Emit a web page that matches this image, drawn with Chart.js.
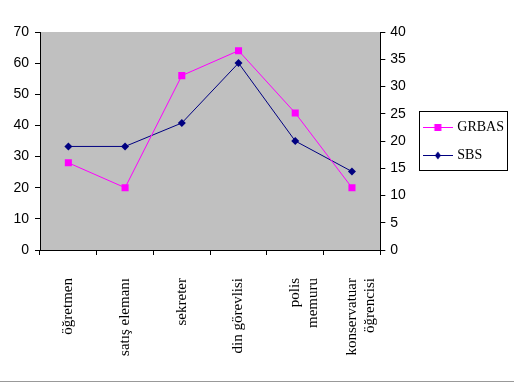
<!DOCTYPE html>
<html>
<head>
<meta charset="utf-8">
<script src="https://cdn.jsdelivr.net/npm/chart.js@4/dist/chart.umd.min.js"></script>
<style>
  body { margin: 0; background: #fff; }
  #wrap { width: 514px; height: 381px; border-bottom: 1px solid #999; }
</style>
</head>
<body>
<div id="wrap"><canvas id="chart" width="514" height="380"></canvas></div>
<script>
const categories = ['öğretmen', 'satış elemanı', 'sekreter', 'din görevlisi', ['polis', 'memuru'], ['konservatuar', 'öğrencisi']];
const grbasValues = [28, 20, 56, 64, 44, 20];   // left axis
const sbsValues = [19, 19, 23.3, 34.3, 20, 14.4]; // right axis
const leftTicks = [0, 10, 20, 30, 40, 50, 60, 70];
const rightTicks = [0, 5, 10, 15, 20, 25, 30, 35, 40];

const sansNarrow = '"Liberation Sans Narrow", "Liberation Sans", Arial, sans-serif';
const serif = '"Liberation Serif", "Times New Roman", serif';

// legend symbol: short line with the marker in the middle
function legendIcon(color, shape) {
  const c = document.createElement('canvas');
  c.width = 30; c.height = 10;
  const g = c.getContext('2d');
  g.strokeStyle = color; g.fillStyle = color; g.lineWidth = 1;
  g.beginPath(); g.moveTo(0, 5.5); g.lineTo(30, 5.5); g.stroke();
  if (shape === 'square') {
    g.fillRect(11.5, 2, 7, 7);
  } else {
    g.beginPath(); g.moveTo(15, 1.5); g.lineTo(18, 5.5); g.lineTo(15, 9.5); g.lineTo(12, 5.5); g.closePath(); g.fill();
  }
  return c;
}

const plotBg = {
  id: 'plotBg',
  beforeDraw(chart) {
    const { ctx, chartArea: a } = chart;
    ctx.save();
    ctx.fillStyle = '#C0C0C0';
    ctx.fillRect(a.left, a.top, a.right - a.left, a.bottom - a.top);
    ctx.restore();
  }
};

const legendBorder = {
  id: 'legendBorder',
  afterDraw(chart) {
    const boxes = chart.legend && chart.legend.legendHitBoxes;
    if (!boxes || !boxes.length) return;
    let x0 = Infinity, y0 = Infinity, x1 = -Infinity, y1 = -Infinity;
    boxes.forEach(b => {
      x0 = Math.min(x0, b.left); y0 = Math.min(y0, b.top);
      x1 = Math.max(x1, b.left + b.width); y1 = Math.max(y1, b.top + b.height);
    });
    const ctx = chart.ctx;
    ctx.save();
    ctx.strokeStyle = '#000';
    ctx.lineWidth = 1;
    ctx.strokeRect(Math.round(x0 - 6) + 0.5, Math.round(y0 - 9) + 0.5, Math.round(x1 - x0 + 9), Math.round(y1 - y0 + 17));
    ctx.restore();
  }
};

new Chart(document.getElementById('chart'), {
  type: 'line',
  data: {
    labels: categories,
    datasets: [
      {
        label: 'GRBAS',
        data: grbasValues,
        yAxisID: 'y',
        borderColor: '#FF00FF',
        backgroundColor: '#FF00FF',
        borderWidth: 1,
        tension: 0,
        pointStyle: 'rect',
        pointRadius: 5,
        pointBorderWidth: 0,
        pointBackgroundColor: '#FF00FF'
      },
      {
        label: 'SBS',
        data: sbsValues,
        yAxisID: 'y1',
        borderColor: '#000080',
        backgroundColor: '#000080',
        borderWidth: 1,
        tension: 0,
        pointStyle: 'rectRot',
        pointRadius: 4,
        pointBorderWidth: 0,
        pointBackgroundColor: '#000080'
      }
    ]
  },
  options: {
    responsive: false,
    animation: false,
    layout: { padding: { top: 32, left: 0, right: 0, bottom: 0 } },
    plugins: {
      tooltip: { enabled: false },
      legend: {
        position: 'right',
        fullSize: false,
        align: 'center',
        maxWidth: 200,
        labels: {
          usePointStyle: true,
          pointStyleWidth: 25,
          padding: 14,
          color: '#000',
          font: { family: serif, size: 14 },
          generateLabels() {
            return [
              { text: 'GRBAS', pointStyle: legendIcon('#FF00FF', 'square'), fillStyle: '#FF00FF', strokeStyle: '#FF00FF', lineWidth: 0, datasetIndex: 0 },
              { text: 'SBS', pointStyle: legendIcon('#000080', 'diamond'), fillStyle: '#000080', strokeStyle: '#000080', lineWidth: 0, datasetIndex: 1 }
            ];
          }
        }
      }
    },
    scales: {
      x: {
        offset: true,
        grid: { offset: true, drawOnChartArea: false, tickLength: 5, color: '#000' },
        border: { color: '#000' },
        ticks: { minRotation: 90, maxRotation: 90, padding: 23, color: '#000', font: { family: serif, size: 15 } },
        afterFit(s) { s.height = 130; }
      },
      y: {
        position: 'left',
        min: 0, max: 70,
        afterBuildTicks(s) { s.ticks = leftTicks.map(v => ({ value: v })); },
        grid: { drawOnChartArea: false, tickLength: 5, color: '#000' },
        border: { color: '#000' },
        ticks: { padding: 6, color: '#000', font: { family: sansNarrow, size: 14 } },
        afterFit(s) { s.width = 40; }
      },
      y1: {
        position: 'right',
        min: 0, max: 40,
        afterBuildTicks(s) { s.ticks = rightTicks.map(v => ({ value: v })); },
        grid: { drawOnChartArea: false, tickLength: 5, color: '#000' },
        border: { color: '#000' },
        ticks: { padding: 5, color: '#000', font: { family: sansNarrow, size: 14 } },
        afterFit(s) { s.width = 31; }
      }
    }
  },
  plugins: [plotBg, legendBorder]
});
</script>
</body>
</html>
